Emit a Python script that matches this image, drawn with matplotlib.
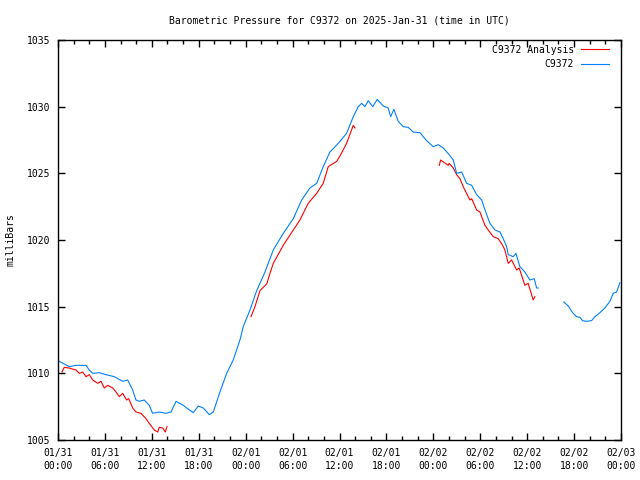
import numpy as np
import matplotlib
matplotlib.use("Agg")
import matplotlib.pyplot as plt

nan = np.nan

# hours since 2025-01-31 00:00 UTC, NaN marks a gap in the record
obs_hours = [0.17, 1.44, 2.30, 3.58, 4.0, 4.44, 5.28, 6.14, 7.2, 8.27, 8.91, 9.55, 9.97,
             10.4, 11.03, 11.67, 12.1, 12.95, 13.8, 14.45, 15.09, 16.02, 16.46, 17.3,
             17.94, 18.58, 19.35, 19.86, 20.71, 21.57, 22.41, 23.27, 23.69, 24.55,
             25.41, 25.83, 26.47, 27.53, 28.81, 30.09, 31.16, 32.22, 33.08, 33.92,
             34.78, 35.84, 36.91, 37.76, 38.4, 38.83, 39.25, 39.68, 40.24, 40.83,
             41.59, 42.23, 42.54, 42.96, 43.51, 44.15, 44.79, 45.43, 46.29, 47.14,
             47.99, 48.63, 49.27, 50.03, 50.55, 50.98, 51.62, 52.26, 52.9, 53.54,
             54.18, 54.82, 55.24, 55.88, 56.52, 56.94, 57.37, 57.58, 58.22, 58.56,
             59.07, 59.71, 60.35, 60.9, 61.21, 61.41, 63.0,
             64.7, 65.25, 65.81, 66.32, 66.75, 67.09, 67.6, 68.24, 68.66, 69.3,
             69.94, 70.58, 71.0, 71.44, 71.86]
obs_mb = [1010.9, 1010.5, 1010.6, 1010.6, 1010.25, 1010.0, 1010.05, 1009.9, 1009.75,
          1009.4, 1009.5, 1008.75, 1008.0, 1007.9, 1008.0, 1007.6, 1007.0, 1007.1,
          1007.0, 1007.1, 1007.9, 1007.6, 1007.4, 1007.05, 1007.55, 1007.4, 1006.9,
          1007.1, 1008.6, 1010.0, 1011.0, 1012.5, 1013.5, 1014.75, 1016.2, 1016.75,
          1017.6, 1019.25, 1020.5, 1021.6, 1023.0, 1023.9, 1024.25, 1025.5, 1026.6,
          1027.25, 1028.0, 1029.25, 1030.0, 1030.25, 1030.0, 1030.45, 1030.0, 1030.55,
          1030.05, 1029.9, 1029.25, 1029.8, 1028.9, 1028.5, 1028.45, 1028.1, 1028.05,
          1027.45, 1027.0, 1027.15, 1026.9, 1026.4, 1026.0, 1025.0, 1025.1, 1024.25,
          1024.1, 1023.4, 1023.0, 1021.9, 1021.25, 1020.75, 1020.6, 1020.1, 1019.5,
          1018.9, 1018.75, 1019.0, 1018.0, 1017.6, 1017.0, 1017.1, 1016.4, 1016.4, nan,
          1015.35, 1015.05, 1014.55, 1014.25, 1014.2, 1013.95, 1013.9, 1013.95,
          1014.25, 1014.55, 1014.9, 1015.4, 1016.0, 1016.1, 1016.8]

ana_hours = [0.51, 0.81, 1.4, 2.30, 2.72, 3.16, 3.58, 4.0, 4.44, 5.08, 5.5, 5.92, 6.35,
             7.0, 7.42, 7.84, 8.27, 8.78, 9.04, 9.55, 9.97, 10.61, 11.25, 11.67,
             12.31, 12.75, 12.95, 13.39, 13.72, 13.94, 19.0,
             24.68, 25.19, 25.83, 26.69, 27.11, 27.53, 28.81, 30.09, 30.94, 32.0,
             33.08, 33.92, 34.56, 35.64, 36.06, 36.91, 37.76, 37.98, 43.0,
             48.76, 48.93, 49.9, 50.03, 50.55, 50.98, 51.4, 51.82, 52.68, 52.9,
             53.54, 53.96, 54.6, 55.02, 55.66, 56.3, 56.86, 57.15, 57.58, 58.01,
             58.65, 58.98, 59.71, 60.13, 60.77, 60.98]
ana_mb = [1010.1, 1010.45, 1010.4, 1010.25, 1010.0, 1010.1, 1009.75, 1009.9, 1009.5,
          1009.25, 1009.4, 1008.9, 1009.1, 1008.9, 1008.6, 1008.25, 1008.5, 1008.0,
          1008.1, 1007.4, 1007.1, 1007.0, 1006.6, 1006.25, 1005.75, 1005.6, 1005.95,
          1005.9, 1005.6, 1006.0, nan,
          1014.25, 1015.0, 1016.2, 1016.7, 1017.5, 1018.25, 1019.6, 1020.75, 1021.5,
          1022.75, 1023.5, 1024.25, 1025.5, 1025.9, 1026.3, 1027.25, 1028.6, 1028.4, nan,
          1025.6, 1026.0, 1025.6, 1025.75, 1025.4, 1024.9, 1024.6, 1024.0, 1023.0,
          1023.1, 1022.25, 1022.1, 1021.1, 1020.75, 1020.25, 1020.1, 1019.6, 1019.25,
          1018.25, 1018.5, 1017.75, 1017.9, 1016.6, 1016.75, 1015.5, 1015.75]

tick_hours = list(range(0, 73, 6))
tick_labels = ["01/31\n00:00", "01/31\n06:00", "01/31\n12:00", "01/31\n18:00",
               "02/01\n00:00", "02/01\n06:00", "02/01\n12:00", "02/01\n18:00",
               "02/02\n00:00", "02/02\n06:00", "02/02\n12:00", "02/02\n18:00",
               "02/03\n00:00"]

plt.rcParams["font.family"] = "DejaVu Sans Mono"
plt.rcParams["font.size"] = 7

fig = plt.figure(figsize=(6.4, 4.8), dpi=100)
ax = fig.add_axes([58 / 640, 40 / 480, 563 / 640, 400 / 480])

ax.plot(ana_hours, ana_mb, color="#ff0000", lw=0.8, label="C9372 Analysis")
ax.plot(obs_hours, obs_mb, color="#0080ff", lw=0.8, label="C9372")

ax.set_xlim(0, 72)
ax.set_ylim(1005, 1035)
ax.set_xticks(tick_hours)
ax.set_xticklabels(tick_labels, linespacing=1.45)
ax.set_xticks(range(0, 73, 2), minor=True)
ax.set_yticks(range(1005, 1036, 5))
ax.tick_params(which="both", direction="in", top=True, right=True, width=1)
ax.tick_params(which="major", length=5)
ax.tick_params(which="minor", length=3)
ax.tick_params(axis="x", pad=5.5)
ax.tick_params(axis="y", pad=5.5)
for s in ax.spines.values():
    s.set_linewidth(1)

ax.set_ylabel("milliBars", labelpad=8)
ax.set_title("Barometric Pressure for C9372 on 2025-Jan-31 (time in UTC)",
             fontsize=7, pad=12)
ax.legend(loc="upper right", bbox_to_anchor=(0.986, 0.998), frameon=False,
          markerfirst=False, handlelength=2.9, labelspacing=0.45,
          borderaxespad=0, handletextpad=0.7)

fig.savefig("out.png", dpi=100)
